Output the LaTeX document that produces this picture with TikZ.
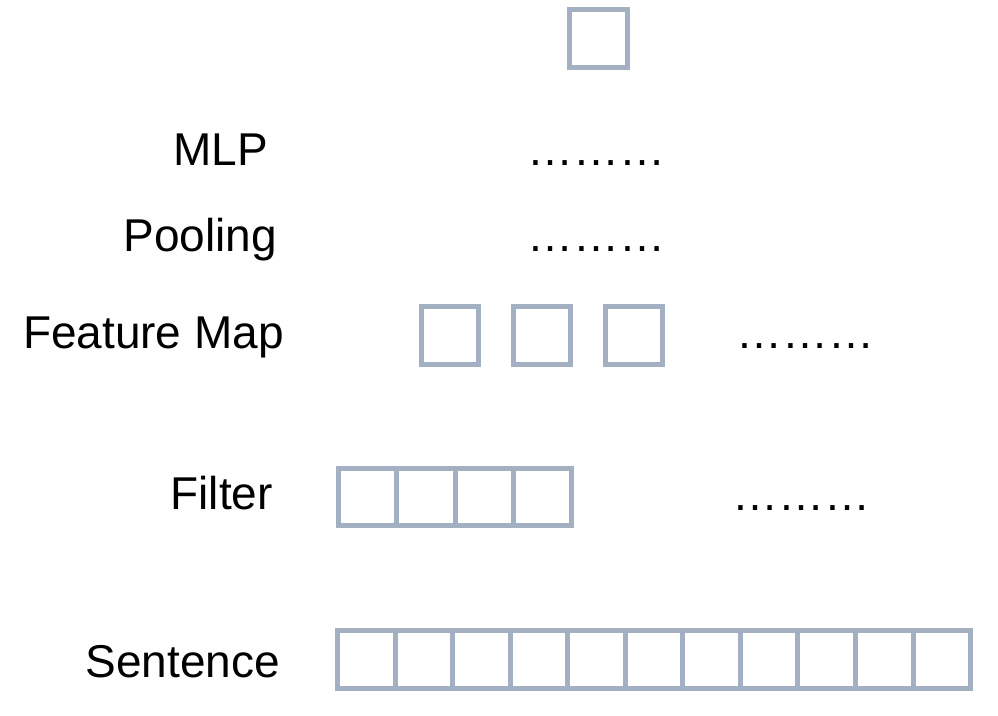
\documentclass[tikz,border=0pt]{standalone}
\usepackage{fontspec}
\setmainfont{Liberation Sans}
\definecolor{boxcol}{RGB}{162,176,194}
\begin{document}
\begin{tikzpicture}[x=1pt,y=-1pt,
  cell/.style={draw=boxcol, line width=5pt, rectangle, minimum width=57.5pt, minimum height=57.5pt, inner sep=0pt, outer sep=0pt},
  lbl/.style={anchor=base east, inner sep=0pt, font=\fontsize{46}{55}\selectfont},
  dots/.style={anchor=base west, inner sep=0pt, font=\fontsize{46}{55}\selectfont}]
\useasboundingbox (0,0) rectangle (998,715);
% labels
\node[lbl] (mlp) at (268,165) {MLP};
\node[lbl] (pool) at (277,251) {Pooling};
\node[lbl] (fmap) at (284,348) {Feature Map};
\node[lbl] (filt) at (273,509) {Filter};
\node[lbl] (sent) at (280,677) {Sentence};
% dots
\node[dots] (d1) at (527,165) {………};
\node[dots] (d2) at (527,251) {………};
\node[dots] (d3) at (736,348) {………};
\node[dots] (d4) at (732,510) {………};
% top box
\node[cell] (top) at (598.5,38.5) {};
% feature map
\node[cell] (f1) at (450,335.5) {};
\node[cell] (f2) at (542,335.5) {};
\node[cell] (f3) at (634,335.5) {};
% filter
\foreach \i in {0,...,3}{
  \node[cell, minimum width=58.25pt] (fl\i) at ({338.5+58.25*(\i+0.5)},497) {};
}
% sentence
\foreach \i in {0,...,10}{
  \node[cell, minimum width=57.55pt] (s\i) at ({337.5+57.55*(\i+0.5)},659.5) {};
}
\end{tikzpicture}
\end{document}
